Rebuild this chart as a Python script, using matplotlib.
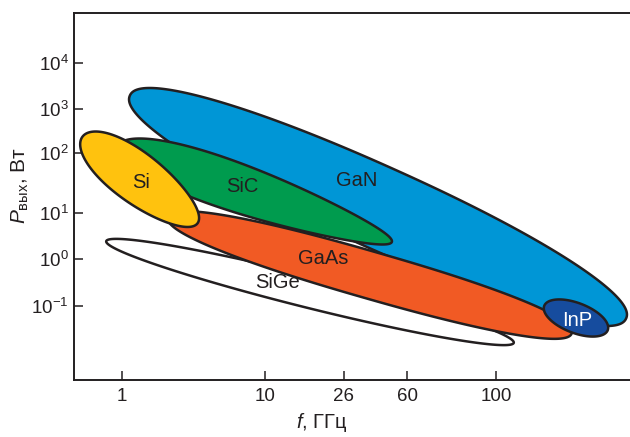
import numpy as np
import matplotlib.pyplot as plt
from matplotlib.patches import Polygon

plt.rcParams['font.family'] = ['Liberation Sans', 'DejaVu Sans']
plt.rcParams['mathtext.fontset'] = 'custom'
plt.rcParams['mathtext.rm'] = 'Liberation Sans'
plt.rcParams['mathtext.it'] = 'Liberation Sans:italic'

# The frequency / power axes of this figure are schematic (not a true log
# scale), so everything is kept in "chart units" that follow the picture.
xtick_pos = [122, 265, 344, 407, 496]
xtick_labels = ['1', '10', '26', '60', '100']
ytick_pos = [63, 109, 153, 213, 259, 306]
ytick_labels = ['$10^{4}$', '$10^{3}$', '$10^{2}$', '$10^{1}$', '$10^{0}$', '$10^{-1}$']

# Regions of the technologies: centre, half length, half thickness,
# tilt (deg), roundness exponent and taper
materials = ['SiGe', 'GaN', 'GaAs', 'SiC', 'Si', 'InP']
center_x = [310, 378, 370, 255, 140, 576]
center_y = [292, 207, 275, 194, 180, 318]
half_len = [210, 272, 210, 145, 72, 34]
half_thk = [16, 41, 23.5, 23.5, 25, 15]
tilt = [14, 24.2, 16, 19.3, 37, 21]
roundness = [2.0, 2.15, 2.3, 2.0, 2.0, 2.0]
taper = [0.0, 0.0, 0.0, -0.3, -0.1, 0.0]
colors = ['#FFFFFF', '#0096D6', '#F15A24', '#009B4E', '#FFC20E', '#164C9E']

# Text labels inside the regions
label_x = [278, 357, 323, 242, 141, 577]
label_y = [283, 180, 259, 187, 183, 320]
label_colors = ['#231F20', '#231F20', '#231F20', '#231F20', '#231F20', '#FFFFFF']

INK = '#231F20'


# Outline of a tilted (super)ellipse, optionally fatter at one end
def region_outline(cx, cy, a, b, ang, p, k, n=400):
    t = np.linspace(0, 2 * np.pi, n)
    c, s = np.cos(t), np.sin(t)
    u = a * np.sign(c) * np.abs(c) ** (2 / p)
    v = b * np.sign(s) * np.abs(s) ** (2 / p) * (1 + k * u / a)
    r = np.radians(ang)
    x = cx + u * np.cos(r) - v * np.sin(r)
    y = cy + u * np.sin(r) + v * np.cos(r)
    return np.column_stack([x, y])


fig = plt.figure(figsize=(6.3, 4.37), dpi=100)
ax = fig.add_axes([74 / 630, 57 / 437, 556 / 630, 367 / 437])
ax.set_xlim(74, 630)
ax.set_ylim(380, 13)

for i, name in enumerate(materials):
    pts = region_outline(center_x[i], center_y[i], half_len[i], half_thk[i],
                         tilt[i], roundness[i], taper[i])
    ax.add_patch(Polygon(pts, closed=True, facecolor=colors[i],
                         edgecolor=INK, linewidth=1.8, zorder=i + 1))
    ax.text(label_x[i], label_y[i], name, color=label_colors[i],
            fontsize=14.5, ha='center', va='center', zorder=10)

ax.set_xticks(xtick_pos, xtick_labels)
ax.set_yticks(ytick_pos, ytick_labels)
ax.tick_params(direction='in', length=6.5, width=1.1, color=INK,
               labelcolor=INK, labelsize=13.5)
ax.tick_params(axis='x', pad=6)
ax.tick_params(axis='y', pad=4)

for side in ['left', 'bottom', 'top']:
    ax.spines[side].set_linewidth(1.4)
    ax.spines[side].set_color(INK)
ax.spines['right'].set_visible(False)

ax.set_xlabel('$\\mathit{f}$, ГГц', fontsize=14.5, color=INK)
ax.xaxis.set_label_coords(0.446, -0.085)
ax.set_ylabel('$\\mathit{P}_{\\mathrm{вых}}$, Вт', fontsize=15, color=INK)
ax.yaxis.set_label_coords(-0.078, 0.529)

fig.savefig('out.png', dpi=100)
